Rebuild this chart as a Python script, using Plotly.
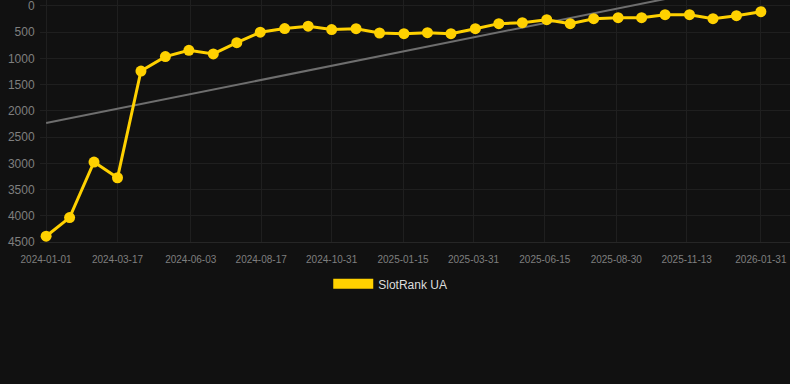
import numpy as np
import plotly.graph_objects as go

dates = [
    "2024-01-01", "2024-01-26", "2024-02-21", "2024-03-17", "2024-04-11",
    "2024-05-07", "2024-06-01", "2024-06-27", "2024-07-22", "2024-08-16",
    "2024-09-11", "2024-10-06", "2024-10-31", "2024-11-26", "2024-12-21",
    "2025-01-16", "2025-02-10", "2025-03-07", "2025-04-02", "2025-04-27",
    "2025-05-22", "2025-06-17", "2025-07-12", "2025-08-06", "2025-09-01",
    "2025-09-26", "2025-10-21", "2025-11-16", "2025-12-11", "2026-01-05",
    "2026-01-31",
]
rank = [
    4390, 4035, 2975, 3275, 1240, 965, 845, 915, 700, 500,
    430, 385, 450, 433, 515, 528, 509, 528, 433, 337,
    318, 261, 337, 242, 223, 223, 166, 166, 242, 185,
    109,
]
tick_dates = [
    "2024-01-01", "2024-03-17", "2024-06-03", "2024-08-17", "2024-10-31",
    "2025-01-15", "2025-03-31", "2025-06-15", "2025-08-30", "2025-11-13",
    "2026-01-31",
]
y_ticks = [0, 500, 1000, 1500, 2000, 2500, 3000, 3500, 4000, 4500]
series_name = "SlotRank UA"

# linear trend of the series
idx = np.arange(len(rank))
slope, intercept = np.polyfit(idx, rank, 1)
trend = [intercept + slope * i for i in (idx[0], idx[-1])]

gold = "#FFD100"
bg = "#111111"
grid = "#1f1f1f"
tick_col = "#7f7f7f"

fig = go.Figure()
fig.add_trace(go.Scatter(
    x=[dates[0], dates[-1]], y=trend, mode="lines",
    line=dict(color="#6e6e6e", width=2), showlegend=False, hoverinfo="skip",
))
fig.add_trace(go.Scatter(
    x=dates, y=rank, mode="lines+markers", name=series_name,
    line=dict(color=gold, width=3),
    marker=dict(color=gold, size=11),
    showlegend=False,
))
fig.add_trace(go.Scatter(
    x=[None], y=[None], mode="lines", name=series_name,
    line=dict(color=gold, width=10), showlegend=True,
))

fig.update_layout(
    width=790, height=384,
    paper_bgcolor=bg, plot_bgcolor=bg,
    margin=dict(l=40, r=0, t=0, b=142),
    font=dict(family="Liberation Sans, Arial, sans-serif", color=tick_col),
    showlegend=True,
    legend=dict(
        orientation="h", x=0.467, xanchor="center", y=-0.113, yanchor="top",
        font=dict(size=12, color="#dddddd"), bgcolor="rgba(0,0,0,0)",
        itemwidth=40,
    ),
    xaxis=dict(
        type="date",
        range=["2023-12-25 12:00", "2026-03-03"],
        tickvals=tick_dates, ticktext=tick_dates,
        tickfont=dict(size=10, color=tick_col),
        showgrid=True, gridcolor=grid, gridwidth=1,
        zeroline=False, showline=True, linecolor="#262626",
        ticks="outside", ticklen=8, tickcolor=bg,
        ticklabeloverflow="allow",
    ),
    yaxis=dict(
        range=[4500, -114], autorange=False,
        tickvals=y_ticks,
        tickfont=dict(size=12, color=tick_col),
        showgrid=True, gridcolor=grid, gridwidth=1,
        zeroline=False, showline=False,
        ticks="outside", ticklen=2, tickcolor=bg,
        ticklabeloverflow="allow",
    ),
)

fig.write_html(
    "out.html",
    config={"displayModeBar": False},
    post_script="document.body.style.margin='0';document.body.style.background='#111111';",
)
